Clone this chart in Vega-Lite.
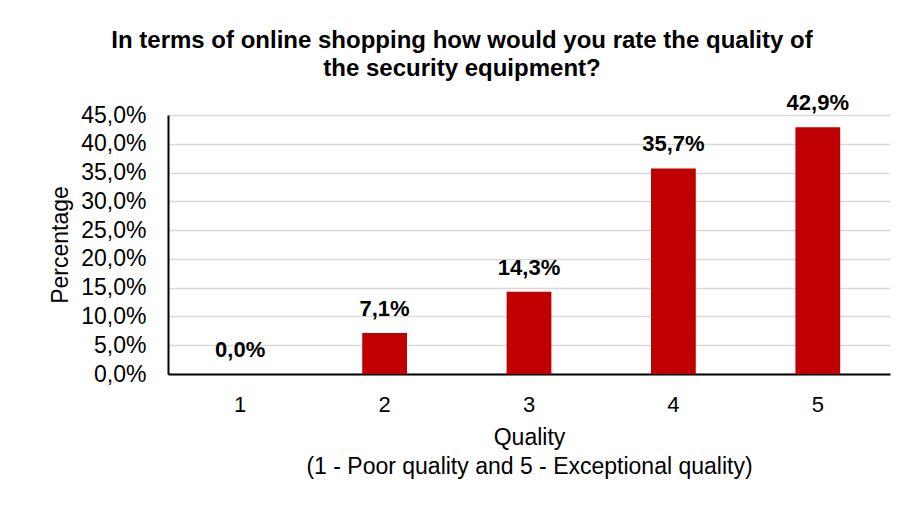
{
  "$schema": "https://vega.github.io/schema/vega-lite/v6.json",
  "width": 722,
  "height": 259,
  "autosize": {"type": "none"},
  "padding": {"left": 168, "top": 115, "right": 21, "bottom": 134},
  "background": "white",
  "config": {
    "locale": {"number": {"decimal": ",", "thousands": ".", "grouping": [3], "currency": ["", " €"]}},
    "font": "Liberation Sans",
    "view": {"stroke": null}
  },
  "title": {
    "text": ["In terms of online shopping how would you rate the quality of", "the security equipment?"],
    "font": "Liberation Sans",
    "fontSize": 24,
    "fontWeight": "bold",
    "color": "#000000",
    "lineHeight": 28,
    "anchor": "middle",
    "dx": -67,
    "offset": 11
  },
  "data": {
    "values": [
      {"quality": "1", "pct": 0.0},
      {"quality": "2", "pct": 0.0714},
      {"quality": "3", "pct": 0.1429},
      {"quality": "4", "pct": 0.3571},
      {"quality": "5", "pct": 0.4286}
    ]
  },
  "encoding": {
    "x": {
      "field": "quality",
      "type": "ordinal",
      "scale": {"paddingInner": 0.69, "paddingOuter": 0.345},
      "axis": {
        "title": ["Quality", "(1 - Poor quality and 5 - Exceptional quality)"],
        "titleFont": "Liberation Sans",
        "titleFontSize": 23,
        "titleFontWeight": "normal",
        "titleColor": "#000000",
        "titleLineHeight": 29,
        "titlePadding": 11,
        "labelFont": "Liberation Sans",
        "labelFontSize": 22,
        "labelColor": "#000000",
        "labelAngle": 0,
        "labelPadding": 20,
        "ticks": false,
        "domainColor": "#000000",
        "domainWidth": 2,
        "grid": false
      }
    },
    "y": {
      "field": "pct",
      "type": "quantitative",
      "scale": {"domain": [0, 0.45], "nice": false},
      "axis": {
        "title": "Percentage",
        "titleFont": "Liberation Sans",
        "titleFontSize": 23,
        "titleFontWeight": "normal",
        "titleColor": "#000000",
        "titlePadding": 8,
        "format": ".1%",
        "values": [0, 0.05, 0.1, 0.15, 0.2, 0.25, 0.3, 0.35, 0.4, 0.45],
        "labelFont": "Liberation Sans",
        "labelFontSize": 23,
        "labelColor": "#000000",
        "labelPadding": 22,
        "ticks": false,
        "domainColor": "#000000",
        "domainWidth": 2,
        "gridColor": "#d9d9d9",
        "gridWidth": 1.5
      }
    }
  },
  "layer": [
    {"mark": {"type": "bar", "color": "#c00000"}},
    {
      "mark": {"type": "text", "font": "Liberation Sans", "fontSize": 22, "fontWeight": "bold", "color": "#000000", "baseline": "alphabetic", "dy": -17},
      "encoding": {"text": {"field": "pct", "type": "quantitative", "format": ".1%"}}
    }
  ]
}
